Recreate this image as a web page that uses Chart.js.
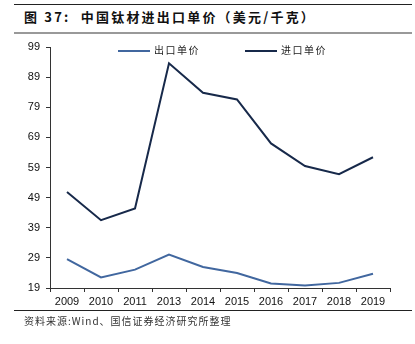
<!DOCTYPE html>
<html>
<head>
<meta charset="utf-8">
<script src="https://cdn.jsdelivr.net/npm/chart.js@4"></script>
<style>
  body { margin: 0; background: #fff; }
  #wrap { position: relative; width: 415px; height: 344px; overflow: hidden; font-family: "Liberation Sans", Arial, sans-serif; }
  #chart { position: absolute; left: 0; top: 0; }
  .rule { position: absolute; left: 14px; width: 398px; }
  .title { position: absolute; left: 24px; top: 7px; font: bold 13px "Noto Sans CJK SC", sans-serif; color: #111; letter-spacing: 2.2px; white-space: pre; }
  .source { position: absolute; left: 24px; top: 313px; font: 10px "Noto Sans CJK SC", sans-serif; color: #333; letter-spacing: 1px; }
  .legend { position: absolute; top: 42px; font: 10px "Noto Sans CJK SC", sans-serif; color: #222; letter-spacing: 1.5px; }
  .legend span.sw { display: inline-block; width: 32px; height: 2px; vertical-align: middle; margin-right: 4px; }
</style>
</head>
<body>
<div id="wrap">
  <div class="rule" style="top:4px;height:1px;background:#222;"></div>
  <div class="title">图 37:  中国钛材进出口单价（美元/千克）</div>
  <div class="rule" style="top:32px;height:2px;background:#999;"></div>
  <canvas id="chart" width="415" height="344"></canvas>
  <div class="legend" style="left:118px;"><span class="sw" style="background:#41679f;"></span>出口单价</div>
  <div class="legend" style="left:245px;"><span class="sw" style="background:#17294a;"></span>进口单价</div>
  <div class="rule" style="top:310px;height:1px;background:#222;"></div>
  <div class="source">资料来源:Wind、国信证券经济研究所整理</div>
</div>
<script>
const years = ['2009', '2010', '2011', '2013', '2014', '2015', '2016', '2017', '2018', '2019'];
const exportPrice = [28.6, 22.5, 25.1, 30.1, 26.0, 24.0, 20.5, 19.8, 20.7, 23.7];
const importPrice = [50.9, 41.5, 45.4, 93.6, 83.8, 81.6, 67.0, 59.5, 56.8, 62.4];
const yMin = 19, yMax = 99, yStep = 10;

const ctx = document.getElementById('chart');
new Chart(ctx, {
   type: 'line',
   data: {
      labels: years,
      datasets: [
         { label: '出口单价', data: exportPrice, borderColor: '#41679f', borderWidth: 2, pointRadius: 0, tension: 0 },
         { label: '进口单价', data: importPrice, borderColor: '#17294a', borderWidth: 2, pointRadius: 0, tension: 0 }
      ]
   },
   options: {
      responsive: false,
      animation: false,
      layout: { padding: { top: 47, right: 25, bottom: 36, left: 0 } },
      plugins: { legend: { display: false }, tooltip: { enabled: false } },
      scales: {
         x: {
            offset: true,
            grid: { offset: true, drawOnChartArea: false, drawTicks: true, tickLength: 4, color: '#333' },
            border: { color: '#333', width: 1 },
            ticks: { color: '#111', font: { size: 11, family: 'Liberation Sans' }, padding: 3, maxRotation: 0, autoSkip: false },
            afterFit: s => { s.height = 20; }
         },
         y: {
            min: yMin, max: yMax,
            grid: { drawOnChartArea: false, drawTicks: true, tickLength: 4, color: '#333' },
            border: { color: '#333', width: 1 },
            ticks: { stepSize: yStep, color: '#111', font: { size: 11, family: 'Liberation Sans' }, padding: 6 },
            afterFit: s => { s.width = 50; }
         }
      }
   }
});
</script>
</body>
</html>
